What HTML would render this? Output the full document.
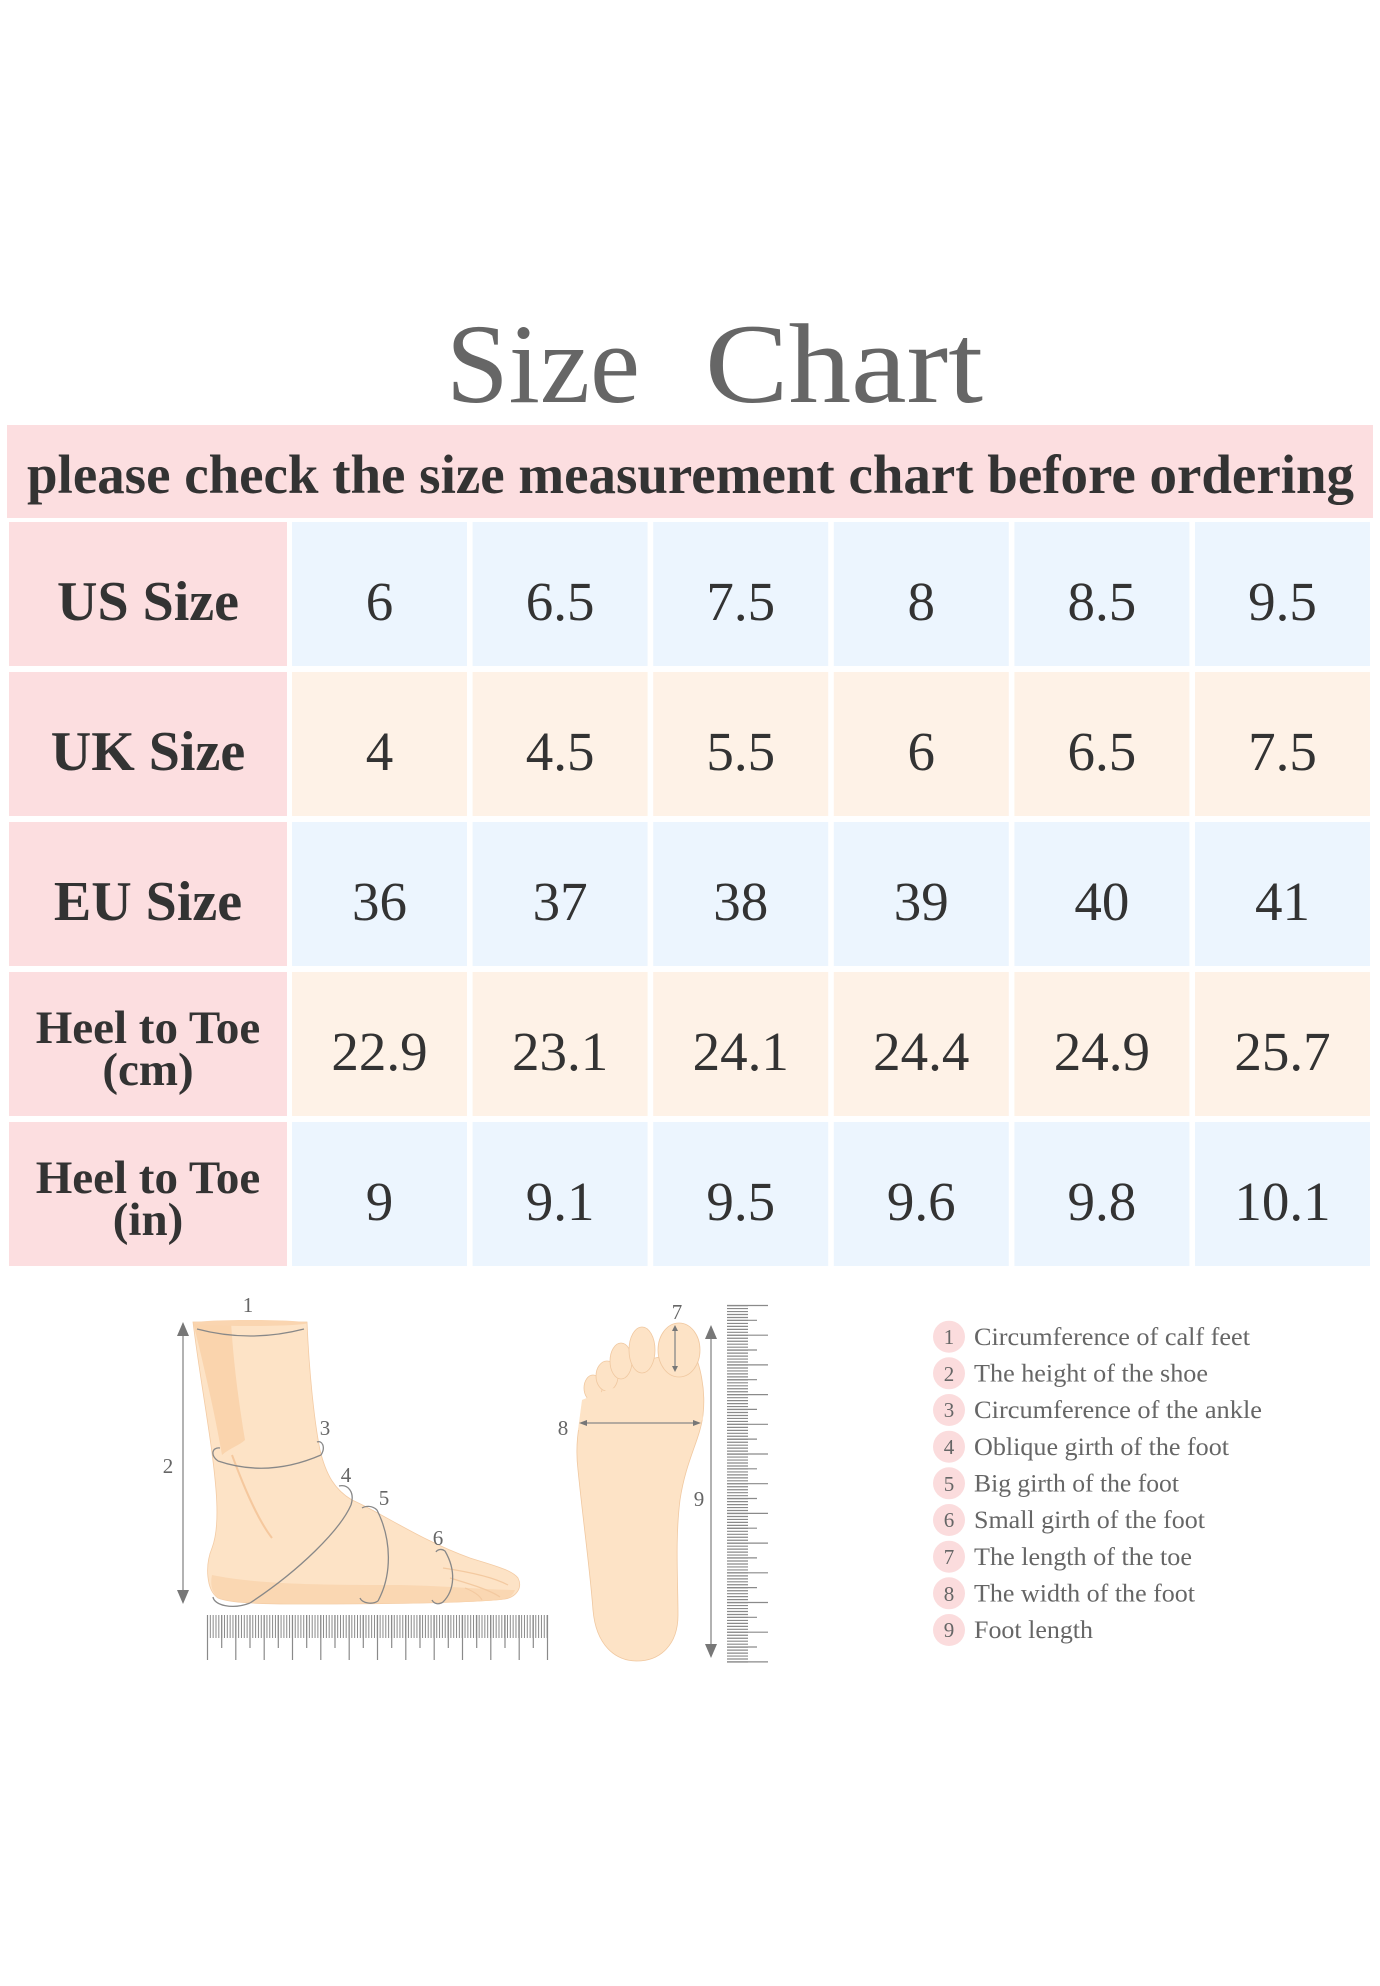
<!DOCTYPE html>
<html><head><meta charset="utf-8"><style>
html,body{margin:0;padding:0;background:#fff;}
svg{display:block;}
text{font-family:"Liberation Serif",serif;}
</style></head><body>
<svg width="1380" height="1986" viewBox="0 0 1380 1986" xmlns="http://www.w3.org/2000/svg">
<rect width="1380" height="1986" fill="#fff"/>
<!-- Title -->
<text x="446" y="402" font-size="113" fill="#666" textLength="194" lengthAdjust="spacingAndGlyphs">Size</text>
<text x="705" y="402" font-size="113" fill="#666" textLength="278" lengthAdjust="spacingAndGlyphs">Chart</text>
<!-- subtitle band -->
<rect x="7" y="425" width="1366" height="93" fill="#fcdee0"/>
<text x="27" y="493" font-size="55" font-weight="bold" fill="#333" textLength="1327" lengthAdjust="spacingAndGlyphs">please check the size measurement chart before ordering</text>

<!-- table rows -->
<g>
<rect x="9" y="522" width="278" height="144" fill="#fcdee0"/>
<rect x="9" y="672" width="278" height="144" fill="#fcdee0"/>
<rect x="9" y="822" width="278" height="144" fill="#fcdee0"/>
<rect x="9" y="972" width="278" height="144" fill="#fcdee0"/>
<rect x="9" y="1122" width="278" height="144" fill="#fcdee0"/>
</g>
<g fill="#ecf5fe">
<rect x="292" y="522" width="175" height="144"/><rect x="472.6" y="522" width="175" height="144"/><rect x="653.2" y="522" width="175" height="144"/><rect x="833.8" y="522" width="175" height="144"/><rect x="1014.4" y="522" width="175" height="144"/><rect x="1195" y="522" width="175" height="144"/>
<rect x="292" y="822" width="175" height="144"/><rect x="472.6" y="822" width="175" height="144"/><rect x="653.2" y="822" width="175" height="144"/><rect x="833.8" y="822" width="175" height="144"/><rect x="1014.4" y="822" width="175" height="144"/><rect x="1195" y="822" width="175" height="144"/>
<rect x="292" y="1122" width="175" height="144"/><rect x="472.6" y="1122" width="175" height="144"/><rect x="653.2" y="1122" width="175" height="144"/><rect x="833.8" y="1122" width="175" height="144"/><rect x="1014.4" y="1122" width="175" height="144"/><rect x="1195" y="1122" width="175" height="144"/>
</g>
<g fill="#fef2e7">
<rect x="292" y="672" width="175" height="144"/><rect x="472.6" y="672" width="175" height="144"/><rect x="653.2" y="672" width="175" height="144"/><rect x="833.8" y="672" width="175" height="144"/><rect x="1014.4" y="672" width="175" height="144"/><rect x="1195" y="672" width="175" height="144"/>
<rect x="292" y="972" width="175" height="144"/><rect x="472.6" y="972" width="175" height="144"/><rect x="653.2" y="972" width="175" height="144"/><rect x="833.8" y="972" width="175" height="144"/><rect x="1014.4" y="972" width="175" height="144"/><rect x="1195" y="972" width="175" height="144"/>
</g>

<!-- header labels -->
<g font-weight="bold" fill="#333" text-anchor="middle">
<text x="148" y="620" font-size="56">US Size</text>
<text x="148" y="770" font-size="56">UK Size</text>
<text x="148" y="920" font-size="56">EU Size</text>
<text x="148" y="1043" font-size="47">Heel to Toe</text>
<text x="148" y="1085" font-size="47">(cm)</text>
<text x="148" y="1193" font-size="47">Heel to Toe</text>
<text x="148" y="1235" font-size="47">(in)</text>
</g>

<!-- data -->
<g fill="#333" font-size="55" text-anchor="middle">
<text x="379.5" y="620">6</text><text x="560.1" y="620">6.5</text><text x="740.7" y="620">7.5</text><text x="921.3" y="620">8</text><text x="1101.9" y="620">8.5</text><text x="1282.5" y="620">9.5</text>
<text x="379.5" y="770">4</text><text x="560.1" y="770">4.5</text><text x="740.7" y="770">5.5</text><text x="921.3" y="770">6</text><text x="1101.9" y="770">6.5</text><text x="1282.5" y="770">7.5</text>
<text x="379.5" y="920">36</text><text x="560.1" y="920">37</text><text x="740.7" y="920">38</text><text x="921.3" y="920">39</text><text x="1101.9" y="920">40</text><text x="1282.5" y="920">41</text>
<text x="379.5" y="1070">22.9</text><text x="560.1" y="1070">23.1</text><text x="740.7" y="1070">24.1</text><text x="921.3" y="1070">24.4</text><text x="1101.9" y="1070">24.9</text><text x="1282.5" y="1070">25.7</text>
<text x="379.5" y="1220">9</text><text x="560.1" y="1220">9.1</text><text x="740.7" y="1220">9.5</text><text x="921.3" y="1220">9.6</text><text x="1101.9" y="1220">9.8</text><text x="1282.5" y="1220">10.1</text>
</g>

<!-- side foot -->
<g>
<path d="M193,1322 L307,1322 C309,1370 314,1420 320,1450 C326,1475 335,1490 352,1500 C380,1512 420,1540 470,1558 C495,1566 512,1570 518,1578 C523,1588 516,1597 505,1599 C470,1603 380,1604 300,1604 C260,1604 230,1603 218,1598 C206,1590 205,1565 212,1548 C217,1535 218,1515 216,1490 C212,1440 200,1380 193,1322 Z" fill="#fde3c6" stroke="#f3cba4" stroke-width="0.8"/>
<path d="M193,1322 L231,1322 C234,1370 240,1410 245,1440 C240,1445 230,1448 222,1455 C216,1420 205,1370 193,1322 Z" fill="#f9cfa6" opacity="0.8"/>
<path d="M232,1455 C245,1490 258,1520 272,1538" fill="none" stroke="#f5c89e" stroke-width="2"/>
<path d="M212,1575 C260,1585 330,1585 400,1585 C450,1586 490,1590 515,1590 C512,1598 505,1599 500,1600 C470,1603 380,1604 300,1604 C260,1604 230,1603 218,1598 C212,1592 210,1585 212,1575 Z" fill="#f9d3ac" opacity="0.8"/>
<ellipse cx="250" cy="1323" rx="57" ry="3" fill="#fad5b0"/>
<path d="M443,1568 C470,1572 495,1578 508,1585 M450,1578 C470,1584 490,1590 500,1597 M465,1588 C475,1592 480,1596 482,1600" fill="none" stroke="#f3c9a0" stroke-width="1.2"/>
</g>
<g fill="none" stroke="#888" stroke-width="1.3">
<path d="M197,1329 Q250,1343 304,1329"/>
<path d="M218,1461 Q268,1478 321,1455"/>
<path d="M218,1461 C210,1455 212,1447 220,1448 M321,1455 C326,1447 322,1440 317,1442"/>
<path d="M250,1603 C300,1570 340,1530 351,1505"/>
<path d="M351,1505 C355,1492 348,1484 339,1486 M250,1603 C232,1610 214,1605 213,1597"/>
<path d="M377,1510 C392,1540 392,1575 378,1601 M377,1510 C372,1505 365,1506 362,1508 M378,1601 C372,1605 362,1603 360,1598"/>
<path d="M445,1551 C456,1570 455,1590 443,1602 M445,1551 C441,1548 437,1550 436,1552 M443,1602 C439,1605 434,1604 432,1600"/>
<line x1="183" y1="1334" x2="183" y2="1592"/>
<line x1="585" y1="1423" x2="695" y2="1423"/>
<line x1="675" y1="1327" x2="675" y2="1370"/>
<line x1="711" y1="1337" x2="711" y2="1646"/>
</g>
<g fill="#777">
<polygon points="183,1322 177,1336 189,1336"/>
<polygon points="183,1604 177,1590 189,1590"/>
<polygon points="711,1325 705,1339 717,1339"/>
<polygon points="711,1658 705,1644 717,1644"/>
<polygon points="579,1423 587,1420 587,1426"/>
<polygon points="701,1423 693,1420 693,1426"/>
<polygon points="675,1325 672,1331 678,1331"/>
<polygon points="675,1372 672,1366 678,1366"/>
</g>
<!-- horizontal ruler -->
<g stroke="#8a8a8a">
<line x1="207" y1="1626.5" x2="548" y2="1626.5" stroke-width="23" stroke-dasharray="1 1.83"/>
<path stroke-width="1.2" d="M207.5,1615V1660M235.8,1615V1660M264.2,1615V1660M292.5,1615V1660M320.8,1615V1660M349.2,1615V1660M377.5,1615V1660M405.8,1615V1660M434.2,1615V1660M462.5,1615V1660M490.8,1615V1660M519.2,1615V1660M547.5,1615V1660"/>
<path stroke-width="1.2" d="M221.7,1615V1648M250,1615V1648M278.3,1615V1648M306.7,1615V1648M335,1615V1648M363.3,1615V1648M391.7,1615V1648M420,1615V1648M448.3,1615V1648M476.7,1615V1648M505,1615V1648M533.3,1615V1648"/>
</g>
<!-- sole -->
<g fill="#fde3c6" stroke="#f0c8a0" stroke-width="0.8">
<path d="M588,1395 C578,1420 575,1445 578,1470 C583,1520 590,1570 593,1610 C596,1645 615,1661 637,1661 C660,1661 678,1645 678,1615 C678,1580 675,1540 680,1500 C686,1460 700,1440 703,1415 C706,1390 700,1362 692,1350 L600,1370 Z"/>
<ellipse cx="593" cy="1388" rx="9" ry="13"/>
<ellipse cx="607" cy="1376" rx="11" ry="15"/>
<ellipse cx="621" cy="1361" rx="11" ry="18"/>
<ellipse cx="642" cy="1350" rx="13" ry="23"/>
<ellipse cx="679" cy="1350" rx="21" ry="27"/>
<path d="M582,1400 C600,1392 640,1375 700,1380 L703,1420 L578,1430 Z" stroke="none"/>
</g>
<g fill="none" stroke="#888" stroke-width="1.3">
<line x1="585" y1="1423" x2="695" y2="1423"/>
<line x1="675" y1="1327" x2="675" y2="1370"/>
</g>
<g fill="#777">
<polygon points="579,1423 587,1420 587,1426"/>
<polygon points="701,1423 693,1420 693,1426"/>
<polygon points="675,1325 672,1331 678,1331"/>
<polygon points="675,1372 672,1366 678,1366"/>
</g>
<!-- vertical ruler -->
<g stroke="#8a8a8a">
<line x1="737.5" y1="1305" x2="737.5" y2="1663" stroke-width="21" stroke-dasharray="1.2 1.77"/>
<path stroke-width="1.2" d="M727,1305.5H768M727,1335.2H768M727,1364.9H768M727,1394.6H768M727,1424.3H768M727,1454H768M727,1483.7H768M727,1513.4H768M727,1543.1H768M727,1572.8H768M727,1602.5H768M727,1632.2H768M727,1661.9H768"/>
<path stroke-width="1.2" d="M727,1320.3H757M727,1350H757M727,1379.7H757M727,1409.4H757M727,1439.1H757M727,1468.8H757M727,1498.5H757M727,1528.2H757M727,1557.9H757M727,1587.6H757M727,1617.3H757M727,1647H757"/>
</g>
<!-- diagram labels -->
<g fill="#666" font-size="21" text-anchor="middle">
<text x="248" y="1312">1</text>
<text x="168" y="1473">2</text>
<text x="325" y="1435">3</text>
<text x="346" y="1482">4</text>
<text x="384" y="1505">5</text>
<text x="438" y="1545">6</text>
<text x="677" y="1319">7</text>
<text x="563" y="1435">8</text>
<text x="699" y="1506">9</text>
</g>
<!-- legend -->
<g fill="#fbdcdd">
<circle cx="949" cy="1336.7" r="16"/><circle cx="949" cy="1373.3" r="16"/><circle cx="949" cy="1410" r="16"/><circle cx="949" cy="1446.7" r="16"/><circle cx="949" cy="1483.3" r="16"/><circle cx="949" cy="1520" r="16"/><circle cx="949" cy="1556.7" r="16"/><circle cx="949" cy="1593.3" r="16"/><circle cx="949" cy="1630" r="16"/>
</g>
<g fill="#666" font-size="21" text-anchor="middle">
<text x="949" y="1344">1</text><text x="949" y="1381">2</text><text x="949" y="1417">3</text><text x="949" y="1454">4</text><text x="949" y="1491">5</text><text x="949" y="1527">6</text><text x="949" y="1564">7</text><text x="949" y="1601">8</text><text x="949" y="1637">9</text>
</g>
<g fill="#666" font-size="25">
<text x="974" y="1345" textLength="276" lengthAdjust="spacingAndGlyphs">Circumference of calf feet</text>
<text x="974" y="1381.5" textLength="234" lengthAdjust="spacingAndGlyphs">The height of the shoe</text>
<text x="974" y="1418" textLength="288" lengthAdjust="spacingAndGlyphs">Circumference of the ankle</text>
<text x="974" y="1455" textLength="255" lengthAdjust="spacingAndGlyphs">Oblique girth of the foot</text>
<text x="974" y="1491.5" textLength="205" lengthAdjust="spacingAndGlyphs">Big girth of the foot</text>
<text x="974" y="1528" textLength="231" lengthAdjust="spacingAndGlyphs">Small girth of the foot</text>
<text x="974" y="1565" textLength="218" lengthAdjust="spacingAndGlyphs">The length of the toe</text>
<text x="974" y="1601.5" textLength="221" lengthAdjust="spacingAndGlyphs">The width of the foot</text>
<text x="974" y="1638" textLength="119" lengthAdjust="spacingAndGlyphs">Foot length</text>
</g>
</svg>
</body></html>
